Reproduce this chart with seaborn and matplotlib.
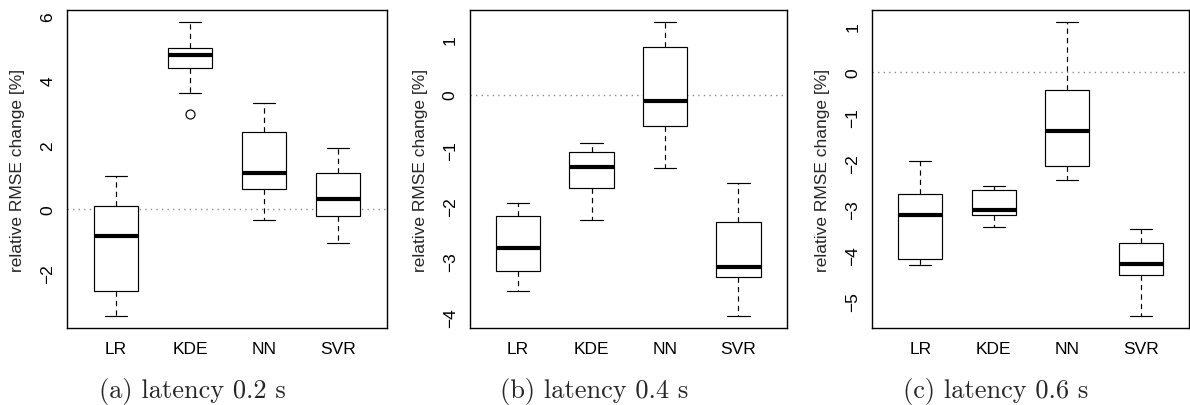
import matplotlib
matplotlib.use("Agg")
import matplotlib.pyplot as plt
import seaborn as sns
import pandas as pd
from matplotlib.ticker import MultipleLocator

# ---------------- data ----------------
models = ["LR", "KDE", "NN", "SVR"]

# panel (a) latency 0.2 s : lower whisker, Q1, median, Q3, upper whisker
a_low = [-3.33, 3.60, -0.34, -1.04]
a_q1 = [-2.55, 4.38, 0.61, -0.21]
a_med = [-0.84, 4.79, 1.13, 0.32]
a_q3 = [0.10, 5.02, 2.41, 1.13]
a_high = [1.02, 5.82, 3.29, 1.89]
a_out = [None, 2.96, None, None]

# panel (b) latency 0.4 s
b_low = [-3.54, -2.26, -1.32, -3.99]
b_q1 = [-3.18, -1.69, -0.57, -3.29]
b_med = [-2.77, -1.31, -0.11, -3.11]
b_q3 = [-2.18, -1.04, 0.85, -2.29]
b_high = [-1.96, -0.87, 1.31, -1.59]
b_out = [None, None, None, None]

# panel (c) latency 0.6 s
c_low = [-4.22, -3.40, -2.36, -5.34]
c_q1 = [-4.10, -3.13, -2.06, -4.45]
c_med = [-3.14, -3.01, -1.29, -4.20]
c_q3 = [-2.67, -2.58, -0.39, -3.75]
c_high = [-1.96, -2.49, 1.09, -3.43]
c_out = [None, None, None, None]

captions = ["(a) latency 0.2 s", "(b) latency 0.4 s", "(c) latency 0.6 s"]
ylabel = "relative RMSE change [%]"


def build_frame(low, q1, med, q3, high, out):
    """Nine-value samples whose quartiles/whiskers reproduce the read statistics."""
    rows = []
    for i, m in enumerate(models):
        first = out[i] if out[i] is not None else low[i]
        sample = [first, low[i], q1[i], med[i], med[i], med[i], q3[i], high[i], high[i]]
        rows += [(m, v) for v in sample]
    return pd.DataFrame(rows, columns=["model", "value"])


panels = [
    build_frame(a_low, a_q1, a_med, a_q3, a_high, a_out),
    build_frame(b_low, b_q1, b_med, b_q3, b_high, b_out),
    build_frame(c_low, c_q1, c_med, c_q3, c_high, c_out),
]

# ---------------- styling ----------------
sns.set_style("white")
plt.rcParams["font.family"] = ["Liberation Sans", "DejaVu Sans"]
plt.rcParams["axes.unicode_minus"] = True

W, H = 1190, 406
fig = plt.figure(figsize=(W / 100, H / 100), dpi=100)

# axes boxes in pixels (left, right), shared top/bottom
ax_px = [(67, 387), (469.5, 787), (872, 1189)]
top_px, bot_px = 11, 329
cap_x = [192, 594, 996]
tick_steps = [2, 1, 1]
FS = 12.5

for k, df in enumerate(panels):
    l, r = ax_px[k]
    ax = fig.add_axes([l / W, (H - bot_px) / H, (r - l) / W, (bot_px - top_px) / H])
    ax.axhline(0, color="0.55", linestyle=(0, (1, 3)), linewidth=1.0, zorder=0)
    sns.boxplot(
        data=df, x="model", y="value", order=models, ax=ax,
        color="white", linecolor="black", linewidth=0.85, width=0.6,
        whis=1.5,
        medianprops={"linewidth": 3.0, "solid_capstyle": "butt"},
        whiskerprops={"linestyle": (0, (4.5, 3.5))},
        capprops={"linestyle": "-"},
        flierprops={"marker": "o", "markerfacecolor": "none",
                    "markeredgecolor": "black", "markersize": 6.5,
                    "markeredgewidth": 0.85},
    )
    vals = df["value"]
    lo, hi = vals.min(), vals.max()
    pad = 0.04 * (hi - lo)
    ax.set_ylim(lo - pad, hi + pad)
    ax.set_xlim(-0.66, 3.66)
    ax.yaxis.set_major_locator(MultipleLocator(tick_steps[k]))
    ax.set_xlabel("")
    ax.set_ylabel(ylabel, fontsize=FS, va="center")
    ax.yaxis.set_label_coords(-49 / (r - l), 0.5)
    for s in ax.spines.values():
        s.set_visible(True)
        s.set_color("black")
        s.set_linewidth(1.0)
    ax.tick_params(axis="both", direction="out", length=4.5, width=1.0,
                   color="black", labelsize=FS, labelcolor="black")
    ax.tick_params(axis="y", pad=4)
    ax.tick_params(axis="x", pad=5)
    for t in ax.get_yticklabels():
        t.set_rotation(90)
        t.set_va("center")
    fig.text(cap_x[k] / W, 1 - 392 / H, captions[k], family="cmr10",
             fontsize=19, ha="center", va="center")

fig.savefig("out.png", dpi=100)
